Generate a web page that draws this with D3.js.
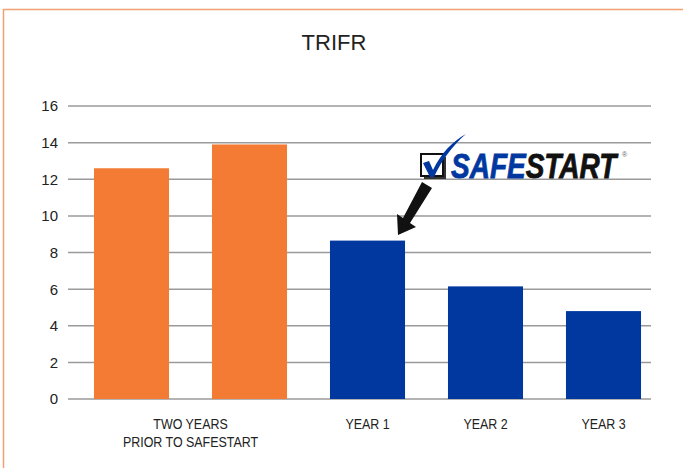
<!DOCTYPE html>
<html>
<head>
<meta charset="utf-8">
<script src="https://cdn.jsdelivr.net/npm/d3@7"></script>
<style>
  body { margin: 0; background: #fff; }
  svg { display: block; }
</style>
</head>
<body>
<script>
// data
const categories = ["prior1", "prior2", "YEAR 1", "YEAR 2", "YEAR 3"];
const values = [12.6, 13.9, 8.65, 6.15, 4.8];
const barColors = ["#f47b33", "#f47b33", "#0038a0", "#0038a0", "#0038a0"];
const yTicks = [0, 2, 4, 6, 8, 10, 12, 14, 16];

const width = 683, height = 468;

const svg = d3.select("body").append("svg")
    .attr("width", width)
    .attr("height", height);

// orange frame (top + left)
svg.append("path")
    .attr("d", "M3.5,468 L3.5,9.5 L683,9.5")
    .attr("fill", "none")
    .attr("stroke", "#f2a072")
    .attr("stroke-width", 1.5);

svg.append("text")
    .attr("x", 334)
    .attr("y", 50)
    .attr("text-anchor", "middle")
    .style("font-family", "Liberation Sans, Arial, sans-serif")
    .style("font-size", "22px")
    .style("fill", "#222")
    .text("TRIFR");

const x = d3.scaleBand()
    .domain(categories)
    .range([72.5, 662.5])
    .paddingInner(0.364)
    .paddingOuter(0.182);

const y = d3.scaleLinear()
    .domain([0, 16])
    .range([399, 106]);

// gridlines
svg.selectAll(".grid")
    .data(yTicks)
    .enter()
    .append("line")
    .attr("class", "grid")
    .attr("x1", 68)
    .attr("x2", 651)
    .attr("y1", d => y(d))
    .attr("y2", d => y(d))
    .attr("stroke", "#9a9a9a")
    .attr("stroke-width", 1.5);

svg.selectAll(".ytick")
    .data(yTicks)
    .enter()
    .append("text")
    .attr("class", "ytick")
    .attr("x", 58)
    .attr("y", d => y(d))
    .attr("dy", "0.36em")
    .attr("text-anchor", "end")
    .style("font-family", "Liberation Sans, Arial, sans-serif")
    .style("font-size", "15px")
    .style("fill", "#222")
    .text(d => d);

// bars
svg.selectAll(".bar")
    .data(values)
    .enter()
    .append("rect")
    .attr("class", "bar")
    .attr("x", (d, i) => x(categories[i]))
    .attr("width", x.bandwidth())
    .attr("y", d => y(d))
    .attr("height", d => y(0) - y(d))
    .attr("fill", (d, i) => barColors[i]);

// category labels (condensed look via horizontal squeeze)
const labelFont = "Liberation Sans, Arial, sans-serif";
const mid = (x("prior1") + x("prior2") + x.bandwidth()) / 2;
const priorLabel = svg.append("text")
    .attr("transform", `translate(${mid},429) scale(0.83,1)`)
    .attr("text-anchor", "middle")
    .style("font-family", labelFont)
    .style("font-size", "15px")
    .style("fill", "#222");
priorLabel.append("tspan").attr("x", 0).attr("y", 0).text("TWO YEARS");
priorLabel.append("tspan").attr("x", 0).attr("y", 18).text("PRIOR TO SAFESTART");

svg.selectAll(".xlabel")
    .data(categories.slice(2))
    .enter()
    .append("text")
    .attr("class", "xlabel")
    .attr("transform", d => `translate(${x(d) + x.bandwidth() / 2},429) scale(0.83,1)`)
    .attr("text-anchor", "middle")
    .style("font-family", labelFont)
    .style("font-size", "15px")
    .style("fill", "#222")
    .text(d => d);

// SafeStart logo
const logo = svg.append("g");
logo.append("rect")
    .attr("x", 424).attr("y", 157).attr("width", 22).attr("height", 22)
    .attr("fill", "#333");
logo.append("rect")
    .attr("x", 421).attr("y", 154).attr("width", 22).attr("height", 22)
    .attr("fill", "#fff").attr("stroke", "#111").attr("stroke-width", 2);
logo.append("path")
    .attr("d", "M423,163 L429,161 L433,170 C442,152 452,142 466,134 C452,146 442,160 434,177 L430,177 Z")
    .attr("fill", "#0038a0");

const brand = logo.append("text")
    .attr("transform", "translate(451,178) scale(0.8,1)")
    .style("font-family", "Liberation Sans, Arial, sans-serif")
    .style("font-size", "35px")
    .style("font-weight", "bold")
    .style("font-style", "italic");
brand.append("tspan").attr("fill", "#0038a0").attr("stroke", "#0038a0").attr("stroke-width", 0.8).text("SAFE");
brand.append("tspan").attr("fill", "#111").attr("stroke", "#111").attr("stroke-width", 0.8).text("START");
logo.append("text")
    .attr("x", 622).attr("y", 157)
    .style("font-family", "Arial, sans-serif")
    .style("font-size", "7px")
    .style("fill", "#666")
    .text("®");

// arrow
logo.append("path")
    .attr("d", "M422,182 L432,188 L410,223 L416,227 L398,235 L397,214 L403,218 Z")
    .attr("fill", "#111");
</script>
</body>
</html>
